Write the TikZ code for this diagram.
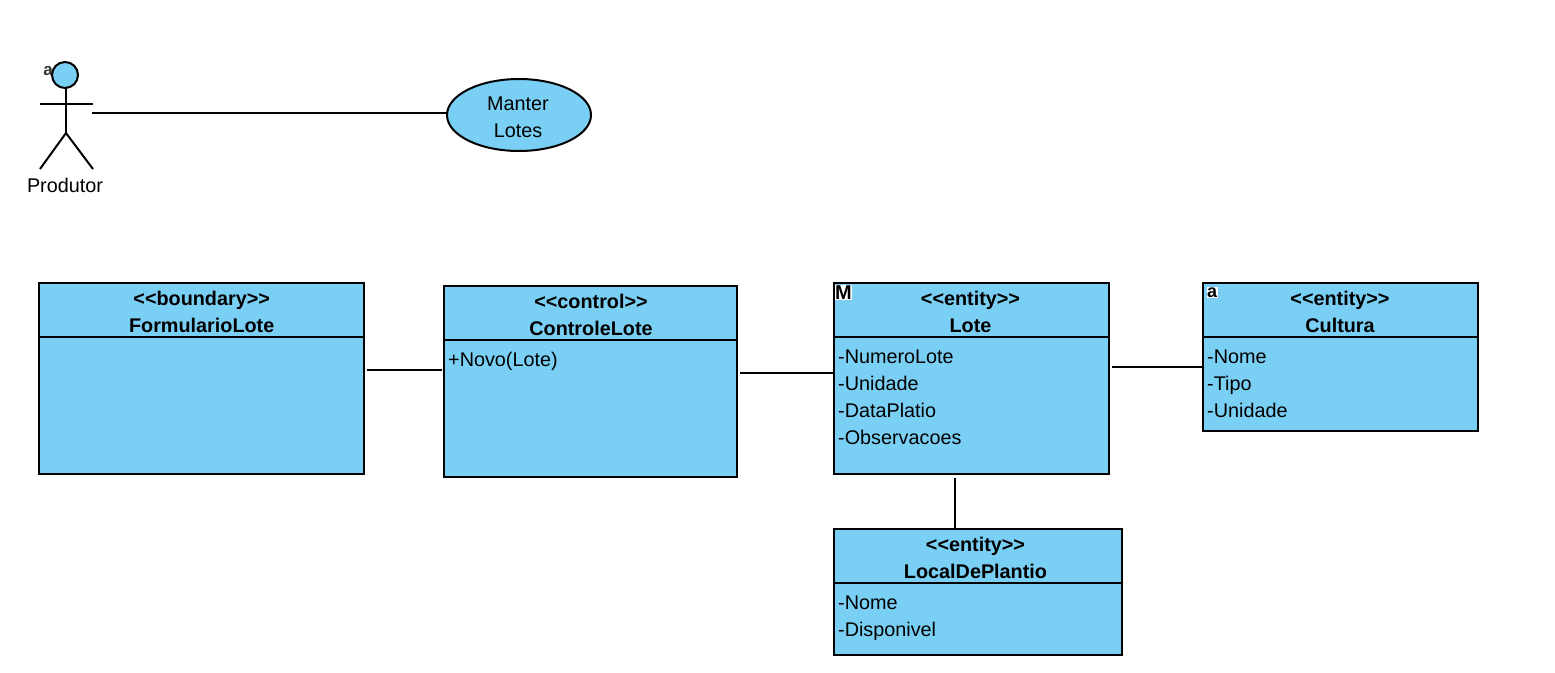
\documentclass[tikz,border=0pt]{standalone}
\usepackage{fontspec}
\usetikzlibrary{shapes.geometric}
\setmainfont{Liberation Sans}
\definecolor{vpblue}{RGB}{122,207,245}
\tikzset{
  umlbox/.style={draw=black,fill=vpblue,line width=2pt,anchor=north west,inner sep=0pt,outer sep=0pt},
  txt/.style={inner sep=0pt,font=\fontsize{19.8}{24}\selectfont,text=black,text height=14pt,text depth=0pt},
  head/.style={txt,font=\fontsize{19.8}{24}\selectfont\bfseries},
  attr/.style={txt,anchor=west},
  conn/.style={draw=black,line width=2pt},
  ticon/.style={inner sep=0.5pt,fill=white,text=black},
  divider/.style={draw=black,line width=2pt}
}
\newcommand{\umlclass}[8]{%
  % name, x, y, w, h, stereotype, title, text offset
  \node[umlbox,minimum width=#4pt,minimum height=#5pt] (#1) at (#2-0.5,#3-0.5) {};
  \draw[divider] (#2-0.5,#3+53.5) -- (#2+#4-0.5,#3+53.5);
  \node[head] (#1s) at (#2+#4/2+#8,#3+15) {<{}<#6>{}>};
  \node[head] (#1t) at (#2+#4/2+#8,#3+42) {#7};
}
\begin{document}
\begin{tikzpicture}[x=1pt,y=-1pt]
\useasboundingbox (0,0) rectangle (1555,672);
\fill[white] (0,0) rectangle (1555,672);

% actor
\node[ticon,font=\fontsize{17}{17}\selectfont\bfseries,inner sep=0pt,text=black!80] (iconA) at (48,71) {a};
\node[draw=black,fill=vpblue,circle,line width=2pt,minimum size=26pt,inner sep=0pt,outer sep=0pt] (actorhead) at (65,75) {};
\coordinate (hip) at (66,133);
\coordinate (armL) at (40,103.5);
\coordinate (armR) at (93,103.5);
\coordinate (legL) at (40,169);
\coordinate (legR) at (93,169);
\draw[conn] (actorhead.south -| hip) -- (hip);
\draw[conn] (armL) -- (armR);
\draw[conn] (legL) -- (hip) -- (legR);
\node[txt] (produtor) at (65,185) {Produtor};

% use case
\node[draw=black,fill=vpblue,ellipse,line width=2pt,minimum width=144pt,minimum height=72pt,inner sep=0pt,outer sep=0pt] (uc) at (519,115) {};
\node[txt] (uc1) at (518,103.5) {Manter};
\node[txt] (uc2) at (518,130.5) {Lotes};
\coordinate (actorEnd) at (92,113);
\draw[conn] (actorEnd) -- (uc.west |- actorEnd);

% classes
\umlclass{form}{39.5}{283.5}{325}{191}{boundary}{FormularioLote}{-0.3}
\umlclass{ctrl}{444.5}{286.5}{293}{191}{control}{ControleLote}{0}
\umlclass{lote}{834.5}{283.5}{275}{191}{entity}{Lote}{-1.5}
\umlclass{cult}{1203.5}{283.5}{275}{148}{entity}{Cultura}{-1}
\umlclass{local}{834.5}{529.5}{288}{126}{entity}{LocalDePlantio}{-3}

\node[attr] (a1) at (448,359.5) {+Novo(Lote)};

\node[attr] (b1) at (838,356.5) {-NumeroLote};
\node[attr] (b2) at (838,383.5) {-Unidade};
\node[attr] (b3) at (838,410.5) {-DataPlatio};
\node[attr] (b4) at (838,437.5) {-Observacoes};

\node[attr] (c1) at (1207,356.5) {-Nome};
\node[attr] (c2) at (1207,383.5) {-Tipo};
\node[attr] (c3) at (1207,410.5) {-Unidade};

\node[attr] (d1) at (838,602.5) {-Nome};
\node[attr] (d2) at (838,629.5) {-Disponivel};

\node[ticon,font=\fontsize{20}{20}\selectfont\bfseries] (iconM) at (843.5,292.5) {M};
\node[ticon,font=\fontsize{18}{18}\selectfont\bfseries] (iconC) at (1212,292.5) {a};

% connectors
\coordinate (p1) at (0,370);
\coordinate (p2) at (0,373);
\coordinate (p3) at (0,367);
\coordinate (p4) at (955,0);
\draw[conn,shorten <=3pt,shorten >=2pt] (form.east |- p1) -- (ctrl.west |- p1);
\draw[conn,shorten <=3pt,shorten >=1.5pt] (ctrl.east |- p2) -- (lote.west |- p2);
\draw[conn,shorten <=3pt] (lote.east |- p3) -- (cult.west |- p3);
\draw[conn,shorten <=4pt] (lote.south -| p4) -- (local.north -| p4);
\end{tikzpicture}
\end{document}
